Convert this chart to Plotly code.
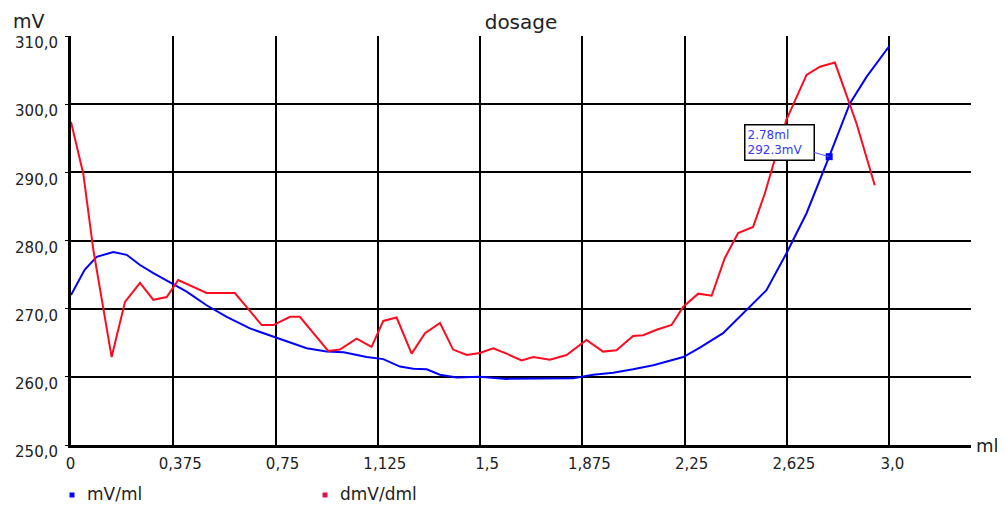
import plotly.graph_objects as go

# ---- data ----
ml_blue = [0, 0.05, 0.094, 0.155, 0.204, 0.253, 0.302, 0.363, 0.424, 0.497,
           0.571, 0.656, 0.742, 0.803, 0.864, 0.937, 1.0, 1.084, 1.145, 1.206,
           1.255, 1.304, 1.353, 1.414, 1.5, 1.597, 1.695, 1.768, 1.841, 1.915,
           1.988, 2.061, 2.135, 2.245, 2.306, 2.391, 2.477, 2.55, 2.623, 2.697,
           2.78, 2.856, 2.917, 3.0]
mv_ml = [272.0, 275.7, 277.6, 278.3, 277.9, 276.4, 275.2, 273.9, 272.5, 270.5,
         268.8, 267.1, 265.9, 265.1, 264.2, 263.7, 263.6, 262.9, 262.6, 261.5,
         261.2, 261.1, 260.3, 259.9, 260.0, 259.7, 259.7, 259.8, 259.8, 260.3,
         260.6, 261.1, 261.7, 262.9, 264.3, 266.4, 269.8, 272.7, 278.1, 284.0,
         292.3, 300.1, 304.0, 308.5]

ml_red = [0, 0.045, 0.082, 0.149, 0.198, 0.253, 0.302, 0.351, 0.393, 0.497,
          0.601, 0.699, 0.742, 0.803, 0.839, 0.943, 0.986, 1.047, 1.102, 1.145,
          1.194, 1.249, 1.298, 1.353, 1.401, 1.451, 1.499, 1.548, 1.597, 1.652,
          1.695, 1.756, 1.817, 1.890, 1.951, 2.0, 2.061, 2.098, 2.147, 2.202,
          2.245, 2.300, 2.349, 2.397, 2.446, 2.501, 2.544, 2.581, 2.623, 2.697,
          2.746, 2.801, 2.880, 2.947]
dmv_dml = [297.4, 289.8, 278.6, 262.9, 271.0, 273.8, 271.3, 271.7, 274.2, 272.3,
           272.3, 267.6, 267.6, 268.8, 268.8, 263.8, 264.0, 265.6, 264.4, 268.2,
           268.7, 263.4, 266.4, 267.9, 264.0, 263.2, 263.5, 264.2, 263.4, 262.4,
           262.9, 262.5, 263.2, 265.4, 263.7, 263.9, 266.0, 266.1, 266.9, 267.6,
           270.3, 272.2, 271.9, 277.4, 281.1, 282.0, 286.9, 291.8, 297.7, 304.3,
           305.5, 306.1, 297.2, 288.1]

x_ticks = [0, 0.375, 0.75, 1.125, 1.5, 1.875, 2.25, 2.625, 3.0]
x_tick_text = ["0\u2003", "0,375", "0,75", "1,125", "1,5", "1,875", "2,25", "2,625", "3,0\u2002"]
y_ticks = [250, 260, 270, 280, 290, 300, 310]
y_tick_text = ["250,0", "260,0", "270,0", "280,0", "290,0", "300,0", "310,0"]

series_names = ["mV/ml", "dmV/dml"]
marker_x, marker_y = 2.78, 292.3
marker_label = "2.78ml<br>292.3mV"

BLUE = "#0000ff"
RED = "#ff0a1e"
FONT = "DejaVu Sans"
TXT = "#222"

# page is offset by the default 8px body margin
OFF = 8
W, H = 1005 - OFF, 505 - OFF
L, T = 71 - OFF, 36 - OFF
PW, PH = 900, 409
R, B = W - L - PW, H - T - PH


def px_x(p):  # page pixel -> paper x
    return (p - OFF - L) / PW


def px_y(p):  # page pixel -> paper y
    return (T + PH - (p - OFF)) / PH


fig = go.Figure()
fig.add_trace(go.Scatter(x=ml_blue, y=mv_ml, mode="lines", name=series_names[0],
                         line=dict(color=BLUE, width=2), showlegend=False))
fig.add_trace(go.Scatter(x=ml_red, y=dmv_dml, mode="lines", name=series_names[1],
                         line=dict(color=RED, width=2), showlegend=False))
fig.add_trace(go.Scatter(x=[marker_x], y=[marker_y], mode="markers",
                         marker=dict(symbol="square", size=7, color=BLUE),
                         showlegend=False, hoverinfo="skip"))

fig.update_layout(
    width=W, height=H,
    margin=dict(l=L, r=R, t=T, b=B, autoexpand=False),
    paper_bgcolor="white", plot_bgcolor="white",
    font=dict(family=FONT, size=15, color=TXT),
    title=dict(text="dosage", x=0.5, xref="paper", y=1 - (22 - OFF) / H, yref="container",
               xanchor="center", yanchor="middle", font=dict(size=20, family=FONT, color=TXT)),
    showlegend=False,
)
fig.update_xaxes(range=[0, 3.3], tickmode="array", tickvals=x_ticks, ticktext=x_tick_text,
                 showgrid=True, gridcolor="black", gridwidth=1.7,
                 showline=True, linecolor="black", linewidth=2.5,
                 zeroline=False, ticks="", ticklabelstandoff=3, ticklabelshift=7,
                 automargin=False,
                 tickfont=dict(size=15, family=FONT, color=TXT))
fig.update_yaxes(range=[250, 310], tickmode="array", tickvals=y_ticks, ticktext=y_tick_text,
                 showgrid=True, gridcolor="black", gridwidth=1.7,
                 showline=True, linecolor="black", linewidth=3,
                 zeroline=False, ticks="outside", ticklen=3, tickcolor="black",
                 ticklabelstandoff=4, ticklabelshift=7, automargin=False,
                 tickfont=dict(size=15, family=FONT, color=TXT))

# axis unit labels
fig.add_annotation(text="mV", xref="paper", yref="paper", x=px_x(29), y=px_y(21),
                   showarrow=False, font=dict(size=19, family=FONT, color=TXT),
                   xanchor="center", yanchor="middle")
fig.add_annotation(text="ml", xref="paper", yref="paper", x=px_x(1000), y=px_y(445),
                   showarrow=False, font=dict(size=18, family=FONT, color=TXT),
                   xanchor="right", yanchor="middle", borderpad=0)

# callout
fig.add_annotation(x=marker_x, y=marker_y, text=marker_label, showarrow=True,
                   arrowhead=0, arrowwidth=1, arrowcolor="#5050ff",
                   ax=-50, ay=-14, align="left", width=64, height=30,
                   font=dict(size=12, family=FONT, color="#3838ff"),
                   bordercolor="black", borderwidth=1.5, borderpad=2, bgcolor="white")

# legend (drawn)
leg = [(72, 85, BLUE, series_names[0]), (325, 338, "#e0104a", series_names[1])]
for mx, tx, col, name in leg:
    fig.add_shape(type="rect", xref="paper", yref="paper",
                  xsizemode="pixel", ysizemode="pixel",
                  xanchor=px_x(mx), yanchor=px_y(495),
                  x0=-2.5, x1=2.5, y0=-2.5, y1=2.5,
                  fillcolor=col, line=dict(width=0))
    fig.add_annotation(text=name, xref="paper", yref="paper", x=px_x(tx), y=px_y(494),
                       showarrow=False, xanchor="left", yanchor="middle",
                       font=dict(size=17, family=FONT, color=TXT))

fig.write_html("out.html")
